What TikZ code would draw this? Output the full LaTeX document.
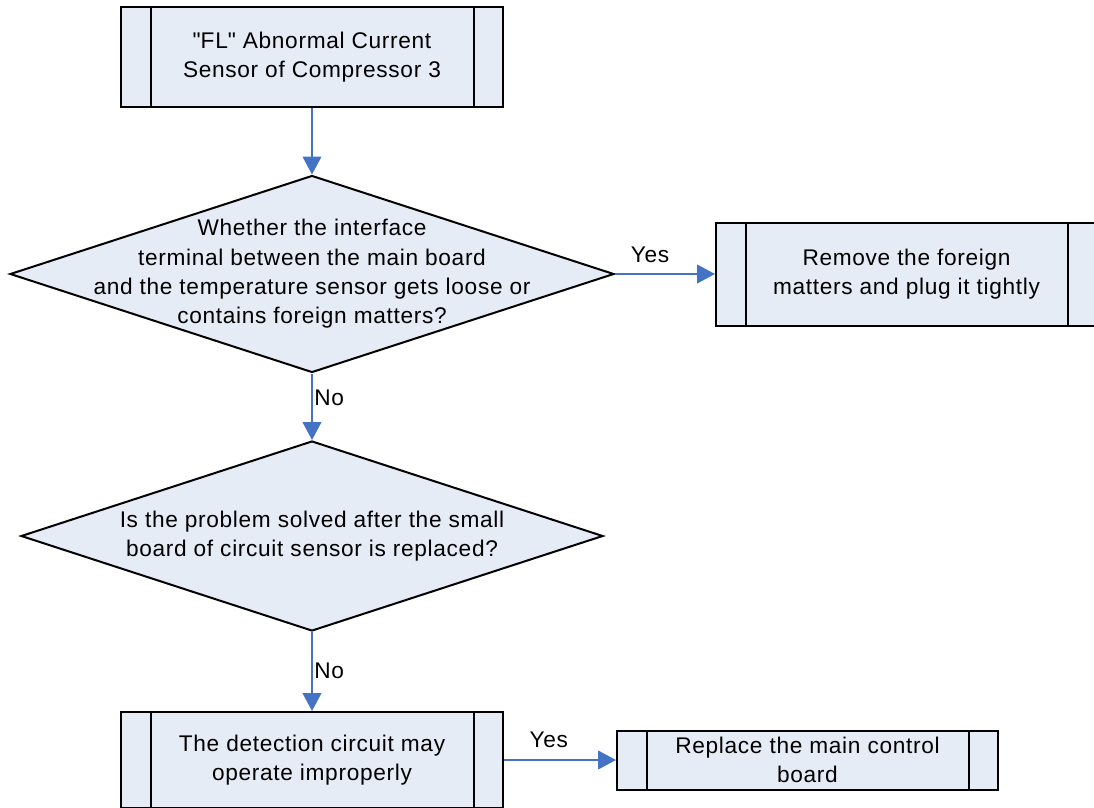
\documentclass[tikz,border=0pt]{standalone}
\usepackage{fontspec}
\setmainfont{Liberation Sans}[LetterSpace=3]
\usetikzlibrary{arrows.meta,shapes.geometric}
\definecolor{boxfill}{RGB}{230,236,246}
\definecolor{flowblue}{RGB}{68,114,196}

\begin{document}
\begin{tikzpicture}[x=0.75pt,y=-0.75pt,font=\fontsize{17}{22}\selectfont,
  process/.style={draw,line width=1.5pt,fill=boxfill,align=center,inner sep=2pt},
  decision/.style={diamond,draw,line width=1.5pt,fill=boxfill,inner sep=0pt},
  flow/.style={draw=flowblue,line width=1.6pt,-{Triangle[length=13.5pt,width=14pt]}}]
  \useasboundingbox (0,0) rectangle (1094,807);

  \node[process,minimum width=286.5pt,minimum height=75pt] (start) at (312,57)
    {\textquotedbl FL\textquotedbl{} Abnormal Current\\Sensor of Compressor 3};
  \node[decision,minimum width=453pt,minimum height=147.75pt,
    label={[align=center]center:{Whether the interface\\terminal between the main board\\and the temperature sensor gets loose or\\contains foreign matters?}}]
    (check1) at (312,274) {};
  \node[process,minimum width=285.75pt,minimum height=77.25pt] (fix) at (906.5,274)
    {Remove the foreign\\matters and plug it tightly};
  \node[decision,minimum width=436.5pt,minimum height=142.5pt,
    label={[align=center]center:{Is the problem solved after the small\\board of circuit sensor is replaced?}}]
    (check2) at (312,536) {};
  \node[process,minimum width=286.5pt,minimum height=72pt] (board) at (312,760)
    {The detection circuit may\\operate improperly};
  \node[process,minimum width=285.75pt,minimum height=44.25pt] (replace) at (807.5,760)
    {Replace the main control\\board};

  % side bars of the process boxes
  \foreach \n in {start,fix,board,replace}{
    \draw[line width=1.5pt] ([xshift=23pt]\n.north west) -- ([xshift=23pt]\n.south west)
      ([xshift=-22.5pt]\n.north east) -- ([xshift=-22.5pt]\n.south east);
  }

  \draw[flow] (start) -- (check1);
  \draw[flow] (check1) -- node[pos=0.35,above,yshift=4pt] {Yes} (fix);
  \draw[flow] (check1) -- node[pos=0.36,right,inner sep=1pt] {No} (check2);
  \draw[flow] (check2) -- node[pos=0.49,right,inner sep=1pt] {No} (board);
  \draw[flow] (board) -- node[pos=0.4,above,yshift=5pt] {Yes} (replace);
\end{tikzpicture}
\end{document}
